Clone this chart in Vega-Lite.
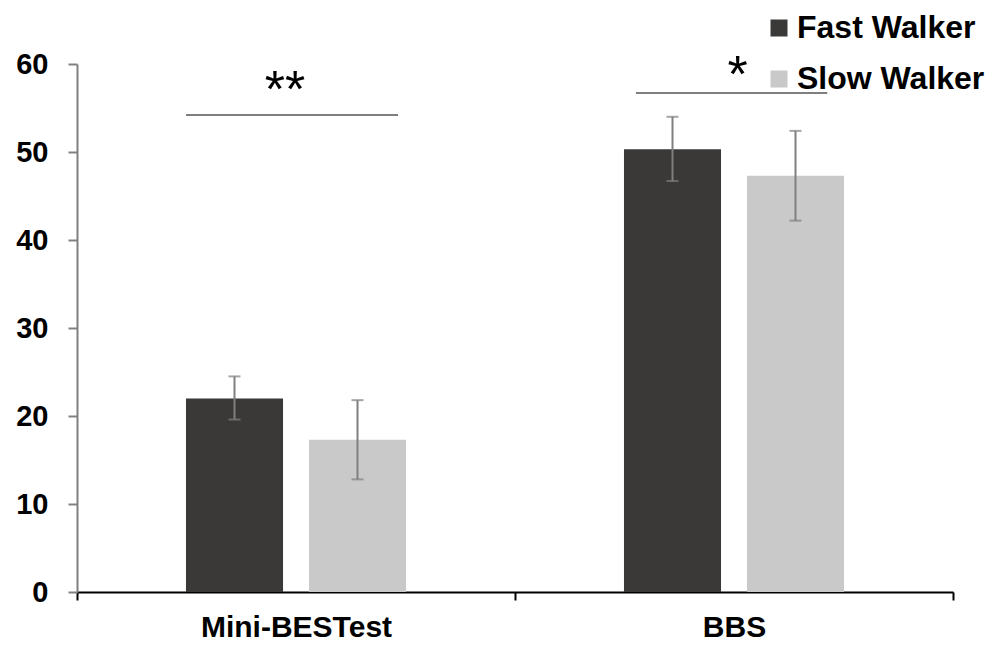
{
  "$schema": "https://vega.github.io/schema/vega-lite/v6.json",
  "width": 876,
  "height": 528,
  "autosize": "none",
  "padding": {"left": 77, "top": 64, "right": 40, "bottom": 56},
  "background": "white",
  "datasets": {
    "bars": [
      {"test": "Mini-BESTest", "group": "Fast Walker", "mean": 22.0, "lo": 19.6, "hi": 24.5},
      {"test": "Mini-BESTest", "group": "Slow Walker", "mean": 17.3, "lo": 12.8, "hi": 21.8},
      {"test": "BBS", "group": "Fast Walker", "mean": 50.3, "lo": 46.7, "hi": 54.0},
      {"test": "BBS", "group": "Slow Walker", "mean": 47.3, "lo": 42.2, "hi": 52.4}
    ],
    "sig": [
      {"test": "Mini-BESTest", "line": 54.2, "star": 55.1, "label": "**"},
      {"test": "BBS", "line": 56.7, "star": 56.8, "label": "*"}
    ]
  },
  "encoding": {
    "x": {
      "field": "test", "type": "nominal",
      "scale": {"domain": ["Mini-BESTest", "BBS"], "paddingInner": 0, "paddingOuter": 0},
      "axis": {
        "title": null, "labelAngle": 0, "domainColor": "#000000", "domainWidth": 2,
        "tickColor": "#000000", "tickWidth": 2, "tickSize": 8, "tickBand": "extent",
        "labelFont": "Liberation Sans", "labelFontWeight": "bold", "labelFontSize": 30,
        "labelColor": "#000000", "labelPadding": 12, "labelLimit": 0
      }
    }
  },
  "layer": [
    {
      "data": {"name": "bars"},
      "mark": {"type": "bar"},
      "encoding": {
        "xOffset": {"field": "group", "type": "nominal", "scale": {"paddingInner": 0.211, "paddingOuter": 0.886}},
        "y": {
          "field": "mean", "type": "quantitative",
          "scale": {"domain": [0, 60], "nice": false},
          "axis": {
            "title": null, "values": [0, 10, 20, 30, 40, 50, 60], "grid": false,
            "domainColor": "#808080", "domainWidth": 2, "tickColor": "#808080", "tickWidth": 2, "tickSize": 9,
            "labelFont": "Liberation Sans", "labelFontWeight": "bold", "labelFontSize": 29,
            "labelColor": "#000000", "labelPadding": 20
          }
        },
        "color": {
          "field": "group", "type": "nominal",
          "scale": {"domain": ["Fast Walker", "Slow Walker"], "range": ["#3a3937", "#c9c9c9"]},
          "legend": {
            "title": null, "orient": "none", "legendX": 686, "legendY": -52, "padding": 0,
            "symbolType": "square", "symbolSize": 289, "symbolStrokeWidth": 0,
            "labelFont": "Liberation Sans", "labelFontWeight": "bold", "labelFontSize": 32,
            "labelColor": "#000000", "labelOffset": 2, "rowPadding": 19, "labelLimit": 400
          }
        }
      }
    },
    {
      "data": {"name": "bars"},
      "mark": {"type": "rule", "color": "#7f7f7f", "strokeWidth": 2},
      "encoding": {
        "xOffset": {"field": "group", "type": "nominal"},
        "y": {"field": "lo", "type": "quantitative"},
        "y2": {"field": "hi"}
      }
    },
    {
      "data": {"name": "bars"},
      "mark": {"type": "tick", "color": "#7f7f7f", "size": 12, "thickness": 2},
      "encoding": {
        "xOffset": {"field": "group", "type": "nominal"},
        "y": {"field": "lo", "type": "quantitative"}
      }
    },
    {
      "data": {"name": "bars"},
      "mark": {"type": "tick", "color": "#7f7f7f", "size": 12, "thickness": 2},
      "encoding": {
        "xOffset": {"field": "group", "type": "nominal"},
        "y": {"field": "hi", "type": "quantitative"}
      }
    },
    {
      "data": {"name": "sig"},
      "transform": [{"filter": "datum.test === 'Mini-BESTest'"}],
      "mark": {"type": "rule", "color": "#7f7f7f", "strokeWidth": 2},
      "encoding": {
        "x": {"field": "test", "type": "nominal", "bandPosition": 0.249},
        "x2": {"field": "test", "bandPosition": 0.733},
        "y": {"field": "line", "type": "quantitative"}
      }
    },
    {
      "data": {"name": "sig"},
      "transform": [{"filter": "datum.test === 'BBS'"}],
      "mark": {"type": "rule", "color": "#7f7f7f", "strokeWidth": 2},
      "encoding": {
        "x": {"field": "test", "type": "nominal", "bandPosition": 0.276},
        "x2": {"field": "test", "bandPosition": 0.713},
        "y": {"field": "line", "type": "quantitative"}
      }
    },
    {
      "data": {"name": "sig"},
      "transform": [{"filter": "datum.test === 'Mini-BESTest'"}],
      "mark": {"type": "text", "font": "Liberation Sans", "fontSize": 52, "baseline": "alphabetic", "align": "center", "color": "#000000"},
      "encoding": {
        "x": {"field": "test", "type": "nominal", "bandPosition": 0.475},
        "y": {"field": "star", "type": "quantitative"},
        "text": {"field": "label"}
      }
    },
    {
      "data": {"name": "sig"},
      "transform": [{"filter": "datum.test === 'BBS'"}],
      "mark": {"type": "text", "font": "Liberation Sans", "fontSize": 52, "baseline": "alphabetic", "align": "center", "color": "#000000"},
      "encoding": {
        "x": {"field": "test", "type": "nominal", "bandPosition": 0.508},
        "y": {"field": "star", "type": "quantitative"},
        "text": {"field": "label"}
      }
    }
  ],
  "config": {
    "view": {"stroke": null},
    "axis": {"grid": false}
  }
}
